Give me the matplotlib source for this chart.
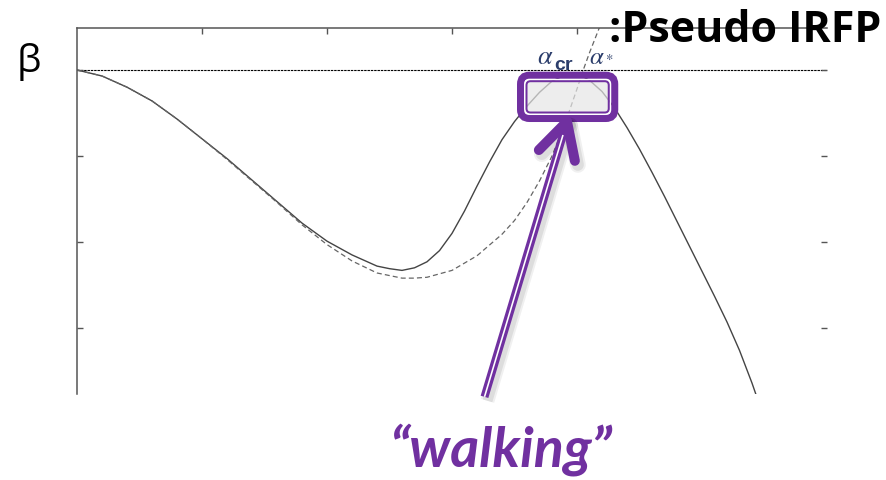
import numpy as np
import matplotlib
matplotlib.use("Agg")
import matplotlib.pyplot as plt
from matplotlib.patches import FancyBboxPatch

plt.rcParams['mathtext.fontset'] = 'stix'

# beta function vs coupling alpha (one tick = 1 unit on both axes)
alpha_solid = [0.0, 0.2, 0.4, 0.6, 0.8, 1.0, 1.2, 1.4, 1.6, 1.8, 2.0, 2.2, 2.4,
               2.5, 2.6, 2.7, 2.8, 2.9, 3.0, 3.1, 3.2, 3.3, 3.4, 3.5, 3.6, 3.7,
               3.8, 3.9, 3.95, 4.0, 4.05, 4.1, 4.2, 4.3, 4.4, 4.5, 4.6, 4.7, 4.8,
               4.9, 5.0, 5.1, 5.2, 5.3, 5.4, 5.45]
beta_solid = [0.0, -0.07, -0.20, -0.36, -0.57, -0.80, -1.03, -1.28, -1.53, -1.78,
              -1.99, -2.15, -2.28, -2.31, -2.33, -2.30, -2.23, -2.10, -1.90, -1.64,
              -1.35, -1.07, -0.81, -0.60, -0.42, -0.26, -0.13, -0.06, -0.05, -0.055,
              -0.08, -0.12, -0.25, -0.44, -0.67, -0.92, -1.19, -1.47, -1.76, -2.05,
              -2.34, -2.63, -2.93, -3.26, -3.64, -3.85]

alpha_dashed = [0.0, 0.2, 0.4, 0.6, 0.8, 1.0, 1.2, 1.4, 1.6, 1.8, 2.0, 2.2, 2.4,
                2.6, 2.7, 2.8, 3.0, 3.2, 3.4, 3.5, 3.6, 3.7, 3.8, 3.9, 4.0, 4.05,
                4.1, 4.2, 4.25]
beta_dashed = [0.0, -0.07, -0.20, -0.36, -0.57, -0.80, -1.04, -1.29, -1.54, -1.80,
               -2.03, -2.22, -2.36, -2.42, -2.42, -2.41, -2.33, -2.16, -1.91, -1.75,
               -1.54, -1.29, -1.00, -0.64, -0.22, 0.0, 0.20, 0.57, 0.75]

yticks = [0, -1, -2, -3]
xticks = [1, 2, 3, 4, 5]

label_cr = 3.81
label_star = 4.225
window_alpha = (3.52, 4.33)
window_beta = (-0.605, -0.02)
arrow_tail = (3.26, -3.80)
arrow_tip = (3.92, -0.60)

purple = '#7030a0'
navy = '#2b3d6b'

W, H = 887, 481
fig = plt.figure(figsize=(W / 100, H / 100), dpi=100)
ax = fig.add_axes([77 / W, 1 - 395 / H, 750 / W, 366 / H])

ax.axhline(0, color='black', lw=0.8, ls=(0, (2.2, 0.8)), zorder=1)
ax.plot(alpha_solid, beta_solid, color='#444444', lw=1.0, zorder=2)
ax.plot(alpha_dashed, beta_dashed, color='#666666', lw=0.9, ls=(0, (4, 2.5)), zorder=2)

ax.set_xlim(0, 6)
ax.set_ylim(-3.767, 0.488)
ax.set_xticks(xticks)
ax.set_yticks(yticks)
ax.tick_params(direction='in', top=True, bottom=False, left=True, right=True,
               labelleft=False, labelbottom=False, length=4.5, width=1.0,
               color='#555555')
for side in ['right', 'bottom']:
    ax.spines[side].set_visible(False)
for side in ['left', 'top']:
    ax.spines[side].set_color('#555555')
    ax.spines[side].set_linewidth(1.1)

# coupling labels: greek alpha with an upright sans subscript
ax.text(label_cr, 0.081, r'$\alpha$', color=navy, fontsize=19,
        ha='right', va='baseline')
ax.text(label_cr + 0.008, 0.017, 'cr', color=navy, fontsize=14, weight='bold',
        family='Liberation Sans', ha='left', va='baseline')
ax.text(label_star, 0.081, r'$\alpha$', color=navy, fontsize=18,
        ha='right', va='baseline')
ax.text(label_star + 0.003, 0.163, r'$\ast$', color=navy, fontsize=10,
        ha='left', va='center')

# overlay in pixel units for the highlight box and arrow
ov = fig.add_axes([0, 0, 1, 1], zorder=5)
ov.set_xlim(0, W)
ov.set_ylim(0, H)
ov.axis('off')
ov.patch.set_alpha(0)

(x0, y0) = ax.transData.transform((window_alpha[0], window_beta[0]))
(x1, y1) = ax.transData.transform((window_alpha[1], window_beta[1]))


def rounded(inset, r, **kw):
    return FancyBboxPatch((x0 + inset, y0 + inset), (x1 - x0) - 2 * inset,
                          (y1 - y0) - 2 * inset,
                          boxstyle=f'round,pad=0,rounding_size={r}', **kw)


px = 72 / 100
ov.add_patch(rounded(10, 3, fc='#e6e6e6', ec='none', alpha=0.7))
ov.add_patch(rounded(8, 5, fc='none', ec='white', lw=2 * px))
ov.add_patch(rounded(9.5, 4, fc='none', ec=purple, lw=2 * px))
ov.add_patch(rounded(3.5, 9, fc='none', ec=purple, lw=7 * px))

tail = np.array(ax.transData.transform(arrow_tail))
tip = np.array(ax.transData.transform(arrow_tip))
d = (tip - tail) / np.linalg.norm(tip - tail)
back = -d


def rot(v, deg):
    t = np.radians(deg)
    return np.array([v[0] * np.cos(t) - v[1] * np.sin(t),
                     v[0] * np.sin(t) + v[1] * np.cos(t)])


arm_l = tip + 40 * rot(back, 28)
arm_r = tip + 40 * rot(back, -28)
shaft_end = tip - 6 * d

# soft shadow
sh = np.array([3, -4])
for lw, a in [(14, 0.06), (10, 0.08)]:
    ov.plot([tail[0] + sh[0], shaft_end[0] + sh[0]], [tail[1] + sh[1], shaft_end[1] + sh[1]],
            color='black', lw=lw * px, alpha=a, solid_capstyle='butt')
    for arm in (arm_l, arm_r):
        ov.plot([tip[0] + sh[0], arm[0] + sh[0]], [tip[1] + sh[1], arm[1] + sh[1]],
                color='black', lw=(lw + 2) * px, alpha=a, solid_capstyle='round')

ov.plot([tail[0], shaft_end[0]], [tail[1], shaft_end[1]], color=purple,
        lw=8 * px, solid_capstyle='butt')
ov.plot([tail[0], shaft_end[0] - 8 * d[0]], [tail[1], shaft_end[1] - 8 * d[1]],
        color='white', lw=1.6 * px, solid_capstyle='butt')
for arm in (arm_l, arm_r):
    ov.plot([tip[0], arm[0]], [tip[1], arm[1]], color=purple, lw=10 * px,
            solid_capstyle='round')

fig.text(29 / W, 1 - 62 / H, 'β', fontsize=28, family='Open Sans',
         ha='center', va='center')
fig.text(881 / W, 1 - 42 / H, ':Pseudo IRFP', fontsize=31, family='Open Sans',
         weight='bold', ha='right', va='baseline', zorder=10)
fig.text(500 / W, 1 - 466 / H, '\u201cwalking\u201d', fontsize=40, family='Lato',
         weight='bold', style='italic', color=purple, ha='center', va='baseline')

fig.savefig('out.png', dpi=100)
